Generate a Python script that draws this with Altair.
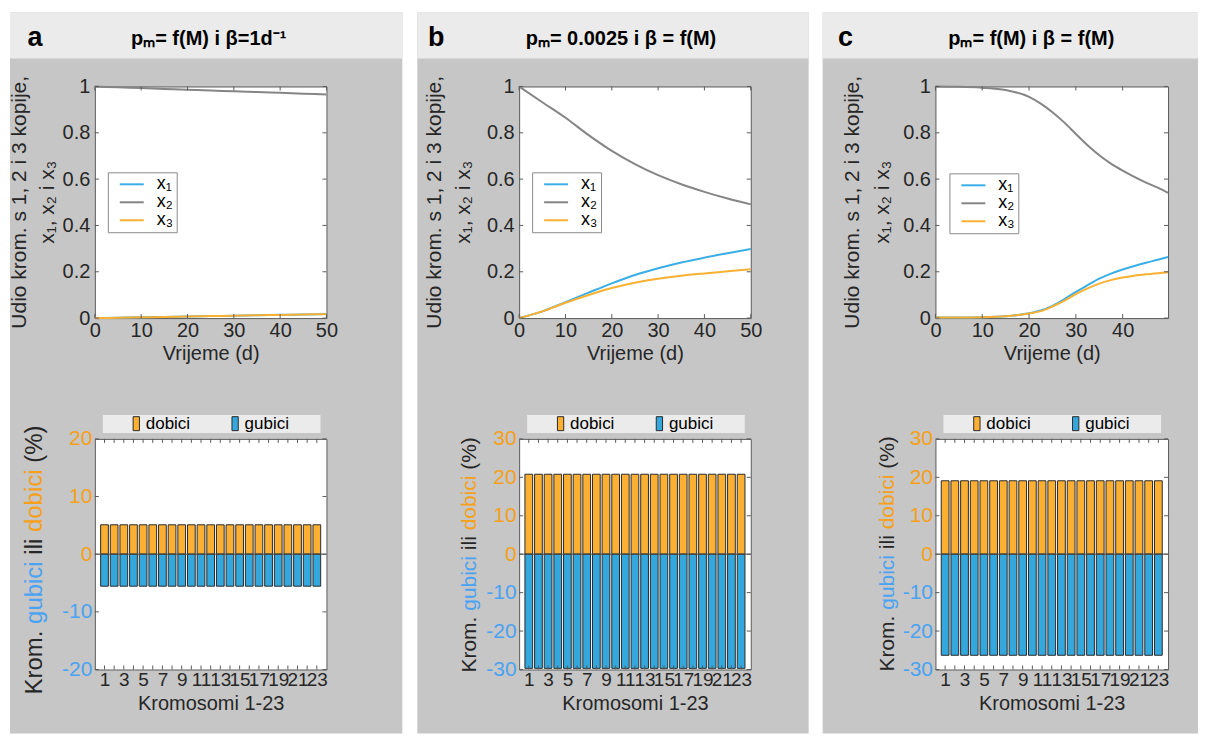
import altair as alt
import pandas as pd

FONT = "Liberation Sans"
BG = "#c6c6c6"
HEAD = "#ebebeb"
BLUE = "#3aaee6"
GRAY = "#858585"
ORANGE = "#f8b133"
BAR_OR = "#fbb034"
BAR_BL = "#34a7dd"
LBL_OR = "#f5a01a"
LBL_BL = "#4aa2f2"
TXT = "#262626"
FRAME = "#5a5a5a"

# ---------------- data ----------------
series_names = ["x₁", "x₂", "x₃"]
bar_types = ["dobici", "gubici"]
panel_letters = ["a", "b", "c"]
panel_titles = ["pₘ= f(M) i β=1d⁻¹", "pₘ= 0.0025 i β = f(M)", "pₘ= f(M) i β = f(M)"]

t_a = [0, 5, 10, 15, 20, 25, 30, 35, 40, 45, 50]
x1_a = [0.000, 0.0020, 0.0035, 0.0050, 0.0070, 0.0085, 0.0105, 0.0120, 0.0140, 0.0155, 0.0175]
x2_a = [1.000, 0.9965, 0.9930, 0.9895, 0.9860, 0.9830, 0.9790, 0.9760, 0.9725, 0.9690, 0.9655]
x3_a = [0.000, 0.0015, 0.0035, 0.0050, 0.0065, 0.0085, 0.0105, 0.0120, 0.0135, 0.0155, 0.0170]

t_b = [0, 5, 10, 15, 20, 25, 30, 35, 40, 45, 50]
x1_b = [0.000, 0.029, 0.069, 0.110, 0.150, 0.186, 0.215, 0.240, 0.261, 0.280, 0.298]
x2_b = [1.000, 0.932, 0.865, 0.790, 0.722, 0.665, 0.617, 0.578, 0.545, 0.516, 0.491]
x3_b = [0.000, 0.029, 0.066, 0.100, 0.130, 0.153, 0.170, 0.183, 0.193, 0.202, 0.211]

t_c = [0, 5, 10, 15, 20, 22.5, 25, 27.5, 30, 32.5, 35, 37.5, 40, 42.5, 45, 47.5, 49.7]
x1_c = [0.003, 0.003, 0.004, 0.008, 0.021, 0.033, 0.053, 0.081, 0.113, 0.142, 0.170, 0.192, 0.210, 0.225, 0.239, 0.252, 0.264]
x2_c = [1.000, 0.999, 0.995, 0.985, 0.955, 0.926, 0.889, 0.845, 0.795, 0.746, 0.703, 0.667, 0.637, 0.610, 0.585, 0.563, 0.541]
x3_c = [0.003, 0.003, 0.004, 0.008, 0.020, 0.030, 0.050, 0.074, 0.103, 0.128, 0.149, 0.164, 0.175, 0.183, 0.189, 0.194, 0.198]

line_yticks = [0, 0.2, 0.4, 0.6, 0.8, 1]
line_xticks_ab = [0, 10, 20, 30, 40, 50]
line_xticks_c = [0, 10, 20, 30, 40]

chromosomes = list(range(1, 24))
chrom_labels = [1, 3, 5, 7, 9, 11, 13, 15, 17, 19, 21, 23]
gain_a = [5.1, 5.1, 5.1, 5.1, 5.1, 5.1, 5.1, 5.1, 5.1, 5.1, 5.1, 5.1,
          5.1, 5.1, 5.1, 5.1, 5.1, 5.1, 5.1, 5.1, 5.1, 5.1, 5.1]
loss_a = [-5.55, -5.55, -5.55, -5.55, -5.55, -5.55, -5.55, -5.55, -5.55, -5.55, -5.55, -5.55,
          -5.55, -5.55, -5.55, -5.55, -5.55, -5.55, -5.55, -5.55, -5.55, -5.55, -5.55]
gain_b = [20.8, 20.8, 20.8, 20.8, 20.8, 20.8, 20.8, 20.8, 20.8, 20.8, 20.8, 20.8,
          20.8, 20.8, 20.8, 20.8, 20.8, 20.8, 20.8, 20.8, 20.8, 20.8, 20.8]
loss_b = [-29.7, -29.7, -29.7, -29.7, -29.7, -29.7, -29.7, -29.7, -29.7, -29.7, -29.7, -29.7,
          -29.7, -29.7, -29.7, -29.7, -29.7, -29.7, -29.7, -29.7, -29.7, -29.7, -29.7]
gain_c = [19.1, 19.1, 19.1, 19.1, 19.1, 19.1, 19.1, 19.1, 19.1, 19.1, 19.1, 19.1,
          19.1, 19.1, 19.1, 19.1, 19.1, 19.1, 19.1, 19.1, 19.1, 19.1, 19.1]
loss_c = [-26.3, -26.3, -26.3, -26.3, -26.3, -26.3, -26.3, -26.3, -26.3, -26.3, -26.3, -26.3,
          -26.3, -26.3, -26.3, -26.3, -26.3, -26.3, -26.3, -26.3, -26.3, -26.3, -26.3]
bar_yticks_a = [-20, -10, 0, 10, 20]
bar_yticks_bc = [-30, -20, -10, 0, 10, 20, 30]

line_ytitle = ["Udio krom. s 1, 2 i 3 kopije,", "x₁, x₂ i x₃"]
bar_ytitle_parts = [("Krom.", TXT), ("gubici", LBL_BL), ("ili", TXT), ("dobici", LBL_OR), ("(%)", TXT)]
# Arial-metric advance (em) of each part including its trailing space
bar_ytitle_em = [2.945, 2.89, 0.944, 2.89, 1.555]

ONE = pd.DataFrame({"s": [0]})


def spacer(w, h):
    return alt.Chart(ONE).mark_point(opacity=0, size=1).properties(width=w, height=h)


def text_mark(text, x, y, size, color=TXT, weight="normal", angle=0, align="center", baseline="middle"):
    return alt.Chart(ONE).mark_text(
        text=text, font=FONT, fontSize=size, fontWeight=weight, color=color,
        angle=angle, align=align, baseline=baseline).encode(x=alt.value(x), y=alt.value(y))


def panel_backgrounds(w, h, spans, top, head_h, bottom):
    """Grey panel bodies and light header strips, drawn first (behind every other cell)."""
    layers = []
    for x0, x1 in spans:
        layers.append(alt.Chart(ONE).mark_rect(color=BG).encode(
            x=alt.value(x0), x2=alt.value(x1), y=alt.value(top), y2=alt.value(bottom)))
        layers.append(alt.Chart(ONE).mark_rect(color=HEAD).encode(
            x=alt.value(x0), x2=alt.value(x1), y=alt.value(top), y2=alt.value(top + head_h)))
    return alt.layer(*layers).properties(width=w, height=h)


def header_cell(width, letter, title, lx, tx):
    return alt.layer(
        text_mark(letter, lx, 25, 27, color="black", weight="bold"),
        text_mark(title, tx, 26, 20, color="black", weight="bold"),
    ).properties(width=width, height=46)


def inward_ticks(xenc, yenc, xname, yname, xvals, yvals, W, H, L=4):
    dx = pd.DataFrame({xname: xvals})
    dy = pd.DataFrame({yname: yvals})
    return [
        alt.Chart(dx).mark_rule(color=FRAME, strokeWidth=1).encode(x=xenc, y=alt.value(H), y2=alt.value(H - L)),
        alt.Chart(dx).mark_rule(color=FRAME, strokeWidth=1).encode(x=xenc, y=alt.value(0), y2=alt.value(L)),
        alt.Chart(dy).mark_rule(color=FRAME, strokeWidth=1).encode(y=yenc, x=alt.value(0), x2=alt.value(L)),
        alt.Chart(dy).mark_rule(color=FRAME, strokeWidth=1).encode(y=yenc, x=alt.value(W - L), x2=alt.value(W)),
    ]


def line_panel(W, H, t, x1, x2, x3, xdom, xticks, legxy, tx1, tx2):
    n = len(t)
    df = pd.DataFrame({
        "t": t + t + t,
        "v": x1 + x2 + x3,
        "s": [series_names[0]] * n + [series_names[1]] * n + [series_names[2]] * n,
    })
    xaxis = alt.Axis(values=xticks, title="Vrijeme (d)", grid=False, domain=False, ticks=False, tickSize=0,
                     labelFont=FONT, labelFontSize=20, labelColor=TXT, labelPadding=2, labelFlush=False,
                     titleFont=FONT, titleFontSize=20, titleFontWeight="normal", titleColor=TXT, titlePadding=3)
    yaxis = alt.Axis(values=line_yticks, title=None, format="~g", grid=False, domain=False, ticks=False, tickSize=0,
                     labelFont=FONT, labelFontSize=20, labelColor=TXT, labelPadding=5)
    xenc = alt.X("t:Q", scale=alt.Scale(domain=xdom, nice=False, zero=False), axis=xaxis)
    yenc = alt.Y("v:Q", scale=alt.Scale(domain=[0, 1], nice=False), axis=yaxis)
    lines = alt.Chart(df).mark_line(strokeWidth=2, interpolate="monotone").encode(
        x=xenc, y=yenc,
        color=alt.Color("s:N", scale=alt.Scale(domain=series_names, range=[BLUE, GRAY, ORANGE]),
                        legend=alt.Legend(orient="none", legendX=legxy[0], legendY=legxy[1], title=None,
                                          fillColor="white", strokeColor="#8a8a8a", padding=3,
                                          symbolType="M0,0H3.43", symbolSize=196, symbolStrokeWidth=2,
                                          labelFont=FONT, labelFontSize=18, labelColor="black",
                                          labelOffset=28, rowPadding=0)),
    )
    ticks = inward_ticks(xenc, yenc, "t", "v", xticks, line_yticks, W, H)
    titles = [
        text_mark(line_ytitle[0], tx1, H / 2, 21, angle=270),
        text_mark(line_ytitle[1], tx2, H / 2, 21, angle=270),
    ]
    return alt.layer(lines, *ticks, *titles).properties(
        width=W, height=H, view=alt.ViewBackground(fill="white", stroke=FRAME, strokeWidth=1))


def bar_panel(W, H, gains, losses, ydom, yticks, tx, ty, tsize):
    df = pd.DataFrame({
        "chr": chromosomes + chromosomes,
        "val": gains + losses,
        "type": [bar_types[0]] * len(chromosomes) + [bar_types[1]] * len(chromosomes),
    })
    xaxis = alt.Axis(values=chrom_labels, title="Kromosomi 1-23", grid=False, domain=False, ticks=False, tickSize=0,
                     labelFont=FONT, labelFontSize=19, labelColor=TXT, labelPadding=1, labelFlush=False,
                     labelOverlap=False,
                     titleFont=FONT, titleFontSize=20, titleFontWeight="normal", titleColor=TXT, titlePadding=4)
    yaxis = alt.Axis(values=yticks, title=None, grid=False, domain=False, ticks=False, tickSize=0,
                     labelExpr="datum.value < 0 ? '-' + abs(datum.value) : '' + datum.value",
                     labelFont=FONT, labelFontSize=21, labelPadding=3,
                     labelColor={"condition": {"test": "datum.value < 0", "value": LBL_BL}, "value": LBL_OR})
    xscale = alt.Scale(domain=[0, 24], nice=False, zero=False)
    yscale = alt.Scale(domain=ydom, nice=False)
    legend_box = alt.Chart(ONE).mark_rect(color=HEAD).encode(
        x=alt.value(8), x2=alt.value(226), y=alt.value(-24), y2=alt.value(-6))
    bars = alt.Chart(df).transform_calculate(
        lo="datum.chr - 0.4", hi="datum.chr + 0.4"
    ).mark_bar(stroke="#2b2b2b", strokeWidth=1).encode(
        x=alt.X("lo:Q", scale=xscale, axis=xaxis),
        x2="hi:Q",
        y=alt.Y("val:Q", scale=yscale, axis=yaxis),
        y2=alt.datum(0),
        color=alt.Color("type:N", scale=alt.Scale(domain=bar_types, range=[BAR_OR, BAR_BL]),
                        legend=alt.Legend(orient="none", legendX=33, legendY=-24, title=None,
                                          direction="horizontal", padding=0,
                                          symbolType="M-0.45,-1H0.45V1H-0.45Z", symbolSize=196,
                                          symbolStrokeColor="#2b2b2b", symbolStrokeWidth=1,
                                          symbolOpacity=1, columnPadding=36,
                                          labelFont=FONT, labelFontSize=17, labelColor="black",
                                          labelOffset=1)),
    )
    xenc = alt.X("chr:Q", scale=xscale, axis=xaxis)
    yenc = alt.Y("val:Q", scale=yscale, axis=yaxis)
    zero = alt.Chart(pd.DataFrame({"val": [0]})).mark_rule(color="#4a4a4a", strokeWidth=1).encode(y=yenc)
    ticks = inward_ticks(xenc, yenc, "chr", "val", chromosomes, yticks, W, H)
    # multi-coloured y title, written bottom to top
    titles = []
    pos = 0.0
    for (p, c), em in zip(bar_ytitle_parts, bar_ytitle_em):
        titles.append(text_mark(p, tx, ty - pos, tsize, color=c, angle=270, align="left"))
        pos += em * tsize
    return alt.layer(legend_box, bars, zero, *ticks, *titles).properties(
        width=W, height=H, view=alt.ViewBackground(fill="white", stroke=FRAME, strokeWidth=1))


# ---------------- layout grid ----------------
LINE_H, BAR_H = 232, 231
panels = [
    dict(left=85, plot=232, right=76, letter_x=25, title_x=199,
         line=line_panel(232, LINE_H, t_a, x1_a, x2_a, x3_a, [0, 50], line_xticks_ab, (13, 86), -75, -47),
         bars=bar_panel(232, BAR_H, gain_a, loss_a, [-20, 20], bar_yticks_a, -60, 256, 24)),
    dict(left=102, plot=232, right=58, letter_x=19, title_x=204,
         line=line_panel(232, LINE_H, t_b, x1_b, x2_b, x3_b, [0, 50], line_xticks_ab, (13, 86), -84, -55),
         bars=bar_panel(232, BAR_H, gain_b, loss_b, [-30, 30], bar_yticks_bc, -49, 234, 21)),
    dict(left=113, plot=233, right=30, letter_x=23, title_x=209,
         line=line_panel(233, LINE_H, t_c, x1_c, x2_c, x3_c, [0, 49.7], line_xticks_c, (14, 87), -83, -53),
         bars=bar_panel(233, BAR_H, gain_c, loss_c, [-30, 30], bar_yticks_bc, -48, 233, 21)),
]
seps = [15, 14]
row_heights = [4, 46, 28, LINE_H, 121, BAR_H, 64]
total_h = sum(row_heights)

# horizontal extent of each panel
spans = []
x = 0
for i, p in enumerate(panels):
    w = p["left"] + p["plot"] + p["right"]
    spans.append((x, x + w))
    x += w + (seps[i] if i < 2 else 0)

cells = []
for r, h in enumerate(row_heights):
    for i, p in enumerate(panels):
        if r == 0:
            first = (panel_backgrounds(p["left"], h, spans, row_heights[0], row_heights[1], total_h)
                     if i == 0 else spacer(p["left"], h))
            cells += [first, spacer(p["plot"], h), spacer(p["right"], h)]
        elif r == 1:
            off = p["left"] + p["plot"]
            cells += [spacer(p["left"], h), spacer(p["plot"], h),
                      header_cell(p["right"], panel_letters[i], panel_titles[i],
                                  p["letter_x"] - off, p["title_x"] - off)]
        elif r == 3:
            cells += [spacer(p["left"], h), p["line"], spacer(p["right"], h)]
        elif r == 5:
            cells += [spacer(p["left"], h), p["bars"], spacer(p["right"], h)]
        else:
            cells += [spacer(p["left"], h), spacer(p["plot"], h), spacer(p["right"], h)]
        if i < 2:
            cells.append(spacer(seps[i], h))

chart = alt.concat(*cells, columns=11, spacing=0, bounds="flush").resolve_scale(
    x="independent", y="independent", color="independent"
).resolve_legend(color="independent").properties(
    background="white", padding=0
).configure(font=FONT).configure_view(stroke=None)

chart.save("out.html", embed_options={"renderer": "svg", "actions": False})
